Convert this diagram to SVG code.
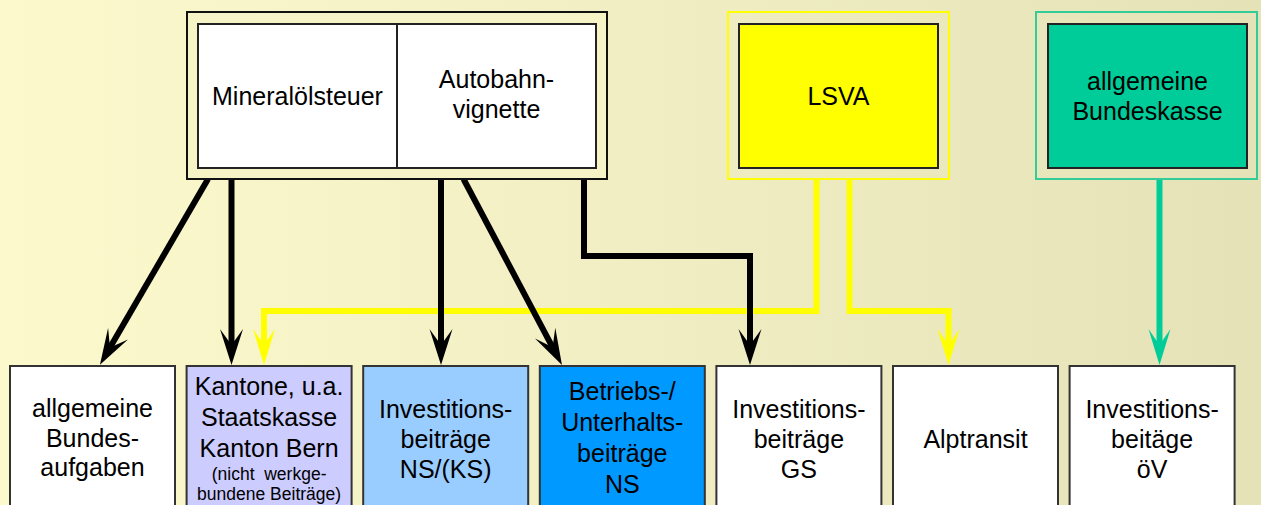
<svg xmlns="http://www.w3.org/2000/svg" width="1261" height="505" viewBox="0 0 1261 505">
  <defs>
    <linearGradient id="bg" x1="0" y1="0" x2="1" y2="0">
      <stop offset="0" stop-color="#FCFACD"/>
      <stop offset="1" stop-color="#E5E2B8"/>
    </linearGradient>
    <marker id="ah-black" viewBox="0 0 36 24" refX="16" refY="12" markerWidth="36" markerHeight="24" markerUnits="userSpaceOnUse" orient="auto">
      <path d="M36,12 L0,0.5 L16,12 L0,23.5 Z" fill="#000"/>
    </marker>
    <marker id="ah-yellow" viewBox="0 0 36 24" refX="16" refY="12" markerWidth="36" markerHeight="24" markerUnits="userSpaceOnUse" orient="auto">
      <path d="M36,12 L0,1 L16,12 L0,23 Z" fill="#FFFF00"/>
    </marker>
    <marker id="ah-green" viewBox="0 0 36 24" refX="16" refY="12" markerWidth="36" markerHeight="24" markerUnits="userSpaceOnUse" orient="auto">
      <path d="M36,12 L0,1 L16,12 L0,23 Z" fill="#00CC99"/>
    </marker>
  </defs>
  <style>
    text { font-family: "Liberation Sans", Arial, sans-serif; font-size: 25px; fill: #000; text-anchor: middle; }
    .small { font-size: 17.5px; white-space: pre; }
    .frame { fill: none; stroke-width: 2; }
    .box { stroke: #222; stroke-width: 2; }
    .target { stroke: #333; stroke-width: 2; }
    .flow { fill: none; stroke-width: 6; stroke-linejoin: miter; }
    .k { stroke: #000; marker-end: url(#ah-black); }
    .y { stroke: #FFFF00; marker-end: url(#ah-yellow); }
    .g { stroke: #00CC99; marker-end: url(#ah-green); }
  </style>

  <rect x="0" y="0" width="1261" height="505" fill="url(#bg)"/>

  <!-- connectors -->
  <g id="connectors">
    <path class="flow y" d="M816.5,179 V311 H264 V345"/>
    <path class="flow y" d="M849.5,179 V311 H948.5 V345"/>
    <path class="flow k" d="M208,179 L110,347.5"/>
    <path class="flow k" d="M231.5,179 V345"/>
    <path class="flow k" d="M441,179 V345"/>
    <path class="flow k" d="M463.5,179 L552.6,347.3"/>
    <path class="flow k" d="M584,179 V256 H750 V345"/>
    <path class="flow g" d="M1159.5,179 V345"/>
  </g>

  <!-- source: fuel tax and motorway vignette -->
  <g id="node-fuel-vignette">
    <rect x="187" y="12" width="420" height="167" fill="#F6F4C7" stroke="#111" stroke-width="2"/>
    <rect class="box" x="198" y="24" width="398" height="144" fill="#FFFFFF"/>
    <line x1="397" y1="24" x2="397" y2="168" stroke="#222" stroke-width="2"/>
    <text x="297.5" y="105">Mineralölsteuer</text>
    <text x="496.5" y="88">Autobahn-</text>
    <text x="496.5" y="118">vignette</text>
  </g>

  <!-- source: heavy vehicle fee -->
  <g id="node-lsva">
    <rect class="frame" x="728" y="12" width="221" height="167" stroke="#FFFF00"/>
    <rect class="box" x="739" y="24" width="199" height="144" fill="#FFFF00"/>
    <text x="838.5" y="105">LSVA</text>
  </g>

  <!-- source: general federal treasury -->
  <g id="node-bundeskasse">
    <rect class="frame" x="1036" y="12" width="221" height="167" stroke="#33CC99"/>
    <rect class="box" x="1048" y="24" width="199" height="144" fill="#00CC99"/>
    <text x="1147.5" y="90">allgemeine</text>
    <text x="1147.5" y="120">Bundeskasse</text>
  </g>

  <!-- destinations -->
  <g id="node-bundesaufgaben">
    <rect class="target" x="10" y="366" width="165" height="150" fill="#FFFFFF"/>
    <text x="92.5" y="417">allgemeine</text>
    <text x="92.5" y="447">Bundes-</text>
    <text x="92.5" y="476">aufgaben</text>
  </g>

  <g id="node-kantone">
    <rect class="target" x="186.6" y="366" width="165" height="150" fill="#CCCCFF"/>
    <text x="269.1" y="395">Kantone, u.a.</text>
    <text x="269.1" y="426">Staatskasse</text>
    <text x="269.1" y="457">Kanton Bern</text>
    <text class="small" x="269.1" y="480">(nicht  werkge-</text>
    <text class="small" x="269.1" y="500">bundene Beiträge)</text>
  </g>

  <g id="node-invest-ns">
    <rect class="target" x="363.2" y="366" width="165" height="150" fill="#99CCFF"/>
    <text x="445.7" y="418">Investitions-</text>
    <text x="445.7" y="448">beiträge</text>
    <text x="445.7" y="478">NS/(KS)</text>
  </g>

  <g id="node-betrieb-ns">
    <rect class="target" x="539.8" y="366" width="165" height="150" fill="#0099FF"/>
    <text x="622.3" y="400">Betriebs-/</text>
    <text x="622.3" y="431">Unterhalts-</text>
    <text x="622.3" y="462">beiträge</text>
    <text x="622.3" y="493">NS</text>
  </g>

  <g id="node-invest-gs">
    <rect class="target" x="716.4" y="366" width="165" height="150" fill="#FFFFFF"/>
    <text x="798.9" y="418">Investitions-</text>
    <text x="798.9" y="448">beiträge</text>
    <text x="798.9" y="478">GS</text>
  </g>

  <g id="node-alptransit">
    <rect class="target" x="893" y="366" width="165" height="150" fill="#FFFFFF"/>
    <text x="975.5" y="448">Alptransit</text>
  </g>

  <g id="node-invest-oev">
    <rect class="target" x="1069.6" y="366" width="165" height="150" fill="#FFFFFF"/>
    <text x="1152.1" y="418">Investitions-</text>
    <text x="1152.1" y="448">beitäge</text>
    <text x="1152.1" y="478">öV</text>
  </g>
</svg>
